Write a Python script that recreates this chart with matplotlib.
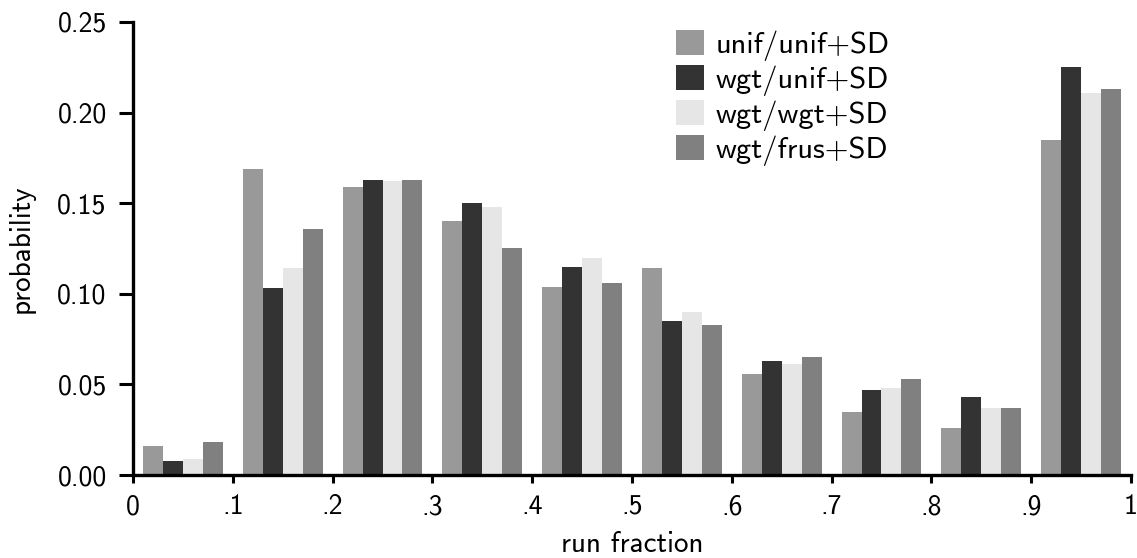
import numpy as np
import matplotlib
matplotlib.use("Agg")
import matplotlib.pyplot as plt

# histogram of run fraction, 10 bins of width 0.1
bin_left = [0.0, 0.1, 0.2, 0.3, 0.4, 0.5, 0.6, 0.7, 0.8, 0.9]
series = ['unif/unif+SD', 'wgt/unif+SD', 'wgt/wgt+SD', 'wgt/frus+SD']
unif_unif = [0.016, 0.169, 0.159, 0.140, 0.104, 0.114, 0.056, 0.035, 0.026, 0.185]
wgt_unif = [0.008, 0.103, 0.163, 0.150, 0.115, 0.085, 0.063, 0.047, 0.043, 0.225]
wgt_wgt = [0.009, 0.114, 0.162, 0.148, 0.120, 0.090, 0.061, 0.048, 0.037, 0.211]
wgt_frus = [0.018, 0.136, 0.163, 0.125, 0.106, 0.083, 0.065, 0.053, 0.037, 0.213]
xtick_labels = ['0', '.1', '.2', '.3', '.4', '.5', '.6', '.7', '.8', '.9', '1']
ytick_labels = ['0.00', '0.05', '0.10', '0.15', '0.20', '0.25']

colors = ['#999999', '#333333', '#e6e6e6', '#808080']

plt.rcParams['font.family'] = ['cmss10', 'DejaVu Sans']
plt.rcParams['mathtext.fontset'] = 'cm'
plt.rcParams['axes.unicode_minus'] = False

fig = plt.figure(figsize=(11.37, 5.58), dpi=100)
ax = fig.add_axes([0.117, 0.1487, 0.8777, 0.812])

w = 0.02
left = np.array(bin_left)
for i, (vals, lab) in enumerate(zip([unif_unif, wgt_unif, wgt_wgt, wgt_frus], series)):
    ax.bar(left + 0.01 + i * w, vals, width=w, align='edge',
           color=colors[i], label=lab, linewidth=0)

ax.set_xlim(0, 1)
ax.set_ylim(0, 0.25)
ax.set_xticks(np.linspace(0, 1, 11))
ax.set_xticklabels(xtick_labels)
ax.set_yticks(np.linspace(0, 0.25, 6))
ax.set_yticklabels(ytick_labels)

for s in ['top', 'right']:
    ax.spines[s].set_visible(False)
for s in ['left', 'bottom']:
    ax.spines[s].set_linewidth(2.4)
ax.tick_params(axis='y', width=2.2, length=10, labelsize=20, direction='out', pad=9)
ax.tick_params(axis='x', width=2.2, length=6, labelsize=20, direction='out', pad=8)

ax.set_xlabel('run fraction', fontsize=21)
ax.set_ylabel('probability', fontsize=21)
ax.xaxis.set_label_coords(0.5, -0.124)
ax.yaxis.set_label_coords(-0.099, 0.5)

ax.legend(loc='upper left', bbox_to_anchor=(0.532, 1.009), frameon=False,
          fontsize=22, handlelength=0.9, handleheight=0.9,
          labelspacing=0.12, handletextpad=0.4, borderaxespad=0.0)

fig.savefig('out.png', dpi=100)
